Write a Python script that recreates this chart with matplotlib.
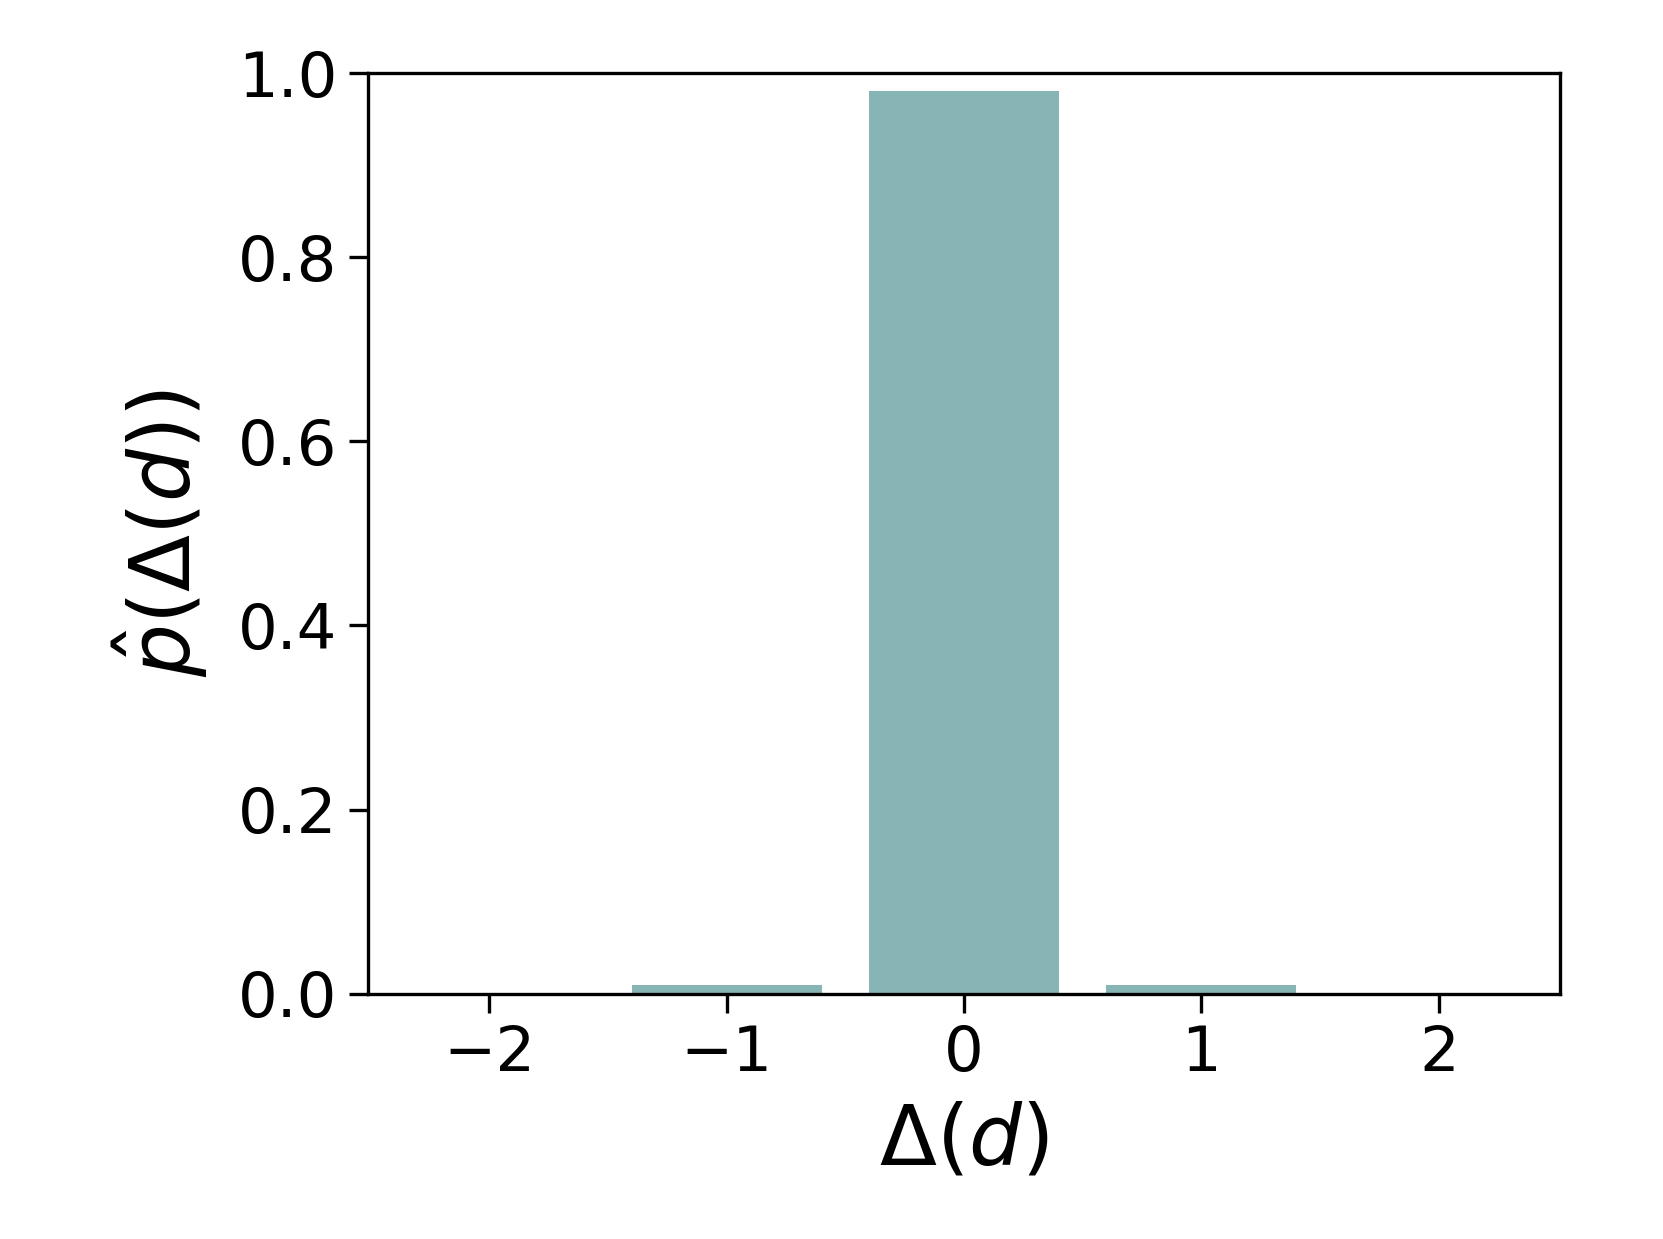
import matplotlib
matplotlib.use("Agg")
import matplotlib.pyplot as plt

deltas = [-2, -1, 0, 1, 2]
probs = [0.0, 0.0095, 0.981, 0.0095, 0.0]

fig = plt.figure(figsize=(16.63, 12.39), dpi=100)
ax = fig.add_axes([0.2213, 0.198, 0.7167, 0.743])
ax.bar(deltas, probs, width=0.8, color='#87B5B6')
ax.set_xlim(-2.51, 2.51)
ax.set_ylim(0, 1.0)
ax.set_xticks(deltas)
ax.set_yticks([0.0, 0.2, 0.4, 0.6, 0.8, 1.0])
ax.tick_params(labelsize=45, width=2.4, length=14, pad=8)
for s in ax.spines.values():
    s.set_linewidth(2.4)
ax.set_xlabel(r'$\Delta(d)$', fontsize=60, labelpad=12)
ax.set_ylabel(r'$\hat{p}(\Delta(d))$', fontsize=60, labelpad=20)
fig.savefig('out.png', dpi=100)
